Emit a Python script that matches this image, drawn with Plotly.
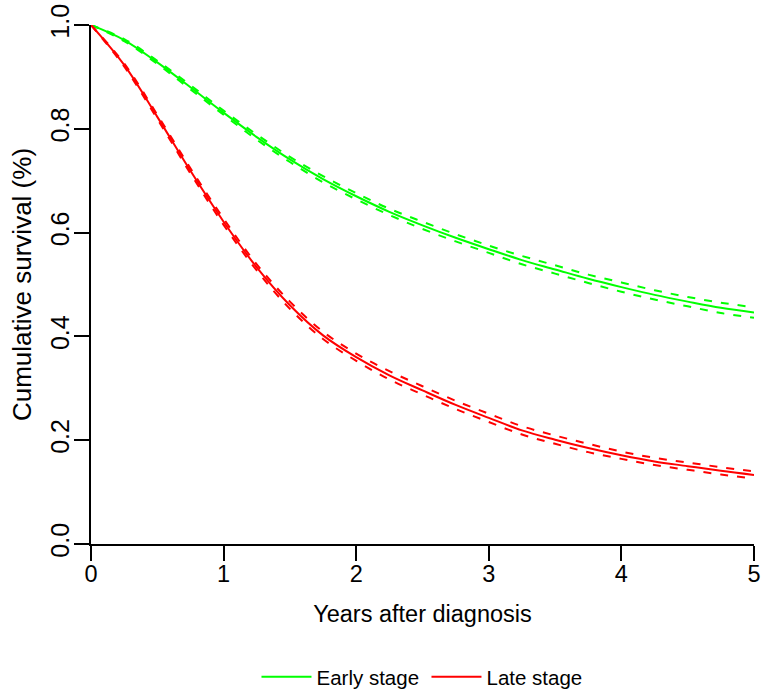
import plotly.graph_objects as go

years = [0, 0.25, 0.5, 0.75, 1.0, 1.25, 1.5, 1.75, 2.0, 2.25, 2.5, 2.75,
         3.0, 3.25, 3.5, 3.75, 4.0, 4.25, 4.5, 4.75, 5.0]

early_surv = [1.0, 0.971, 0.928, 0.880, 0.831, 0.784, 0.741, 0.703, 0.670, 0.640,
              0.614, 0.590, 0.568, 0.547, 0.529, 0.511, 0.495, 0.480, 0.467, 0.455, 0.446]
early_ci_hw = [0.0, 0.002, 0.003, 0.004, 0.004, 0.005, 0.005, 0.006, 0.006, 0.006,
               0.007, 0.007, 0.007, 0.008, 0.008, 0.008, 0.009, 0.009, 0.009, 0.010, 0.010]

late_surv = [1.0, 0.923, 0.823, 0.719, 0.621, 0.533, 0.460, 0.402, 0.360, 0.325,
             0.296, 0.268, 0.243, 0.219, 0.201, 0.185, 0.171, 0.159, 0.150, 0.141, 0.133]
late_ci_hw = [0.0, 0.003, 0.004, 0.005, 0.006, 0.006, 0.007, 0.007, 0.007, 0.008,
              0.008, 0.008, 0.008, 0.008, 0.008, 0.008, 0.007, 0.007, 0.007, 0.007, 0.007]

series_names = ["Early stage", "Late stage"]
series_colors = ["#00FF00", "#FF0000"]

x_ticks = [0, 1, 2, 3, 4, 5]
y_ticks = [0.0, 0.2, 0.4, 0.6, 0.8, 1.0]
y_tick_labels = ["0.0", "0.2", "0.4", "0.6", "0.8", "1.0"]

FONT = "Liberation Sans, Arial, sans-serif"

fig = go.Figure()
for name, color, surv, hw in [(series_names[0], series_colors[0], early_surv, early_ci_hw),
                              (series_names[1], series_colors[1], late_surv, late_ci_hw)]:
    upper = [s + h for s, h in zip(surv, hw)]
    lower = [s - h for s, h in zip(surv, hw)]
    for band in (upper, lower):
        fig.add_trace(go.Scatter(x=years, y=band, mode="lines", showlegend=False,
                                 hoverinfo="skip", cliponaxis=False,
                                 line=dict(color=color, width=2, dash="8px,9px",
                                           shape="spline", smoothing=1)))
    fig.add_trace(go.Scatter(x=years, y=surv, mode="lines", name=name, cliponaxis=False,
                             line=dict(color=color, width=2, shape="spline", smoothing=1)))

fig.update_layout(
    width=762, height=693,
    margin=dict(l=91, r=8, t=25, b=149, autoexpand=False),
    paper_bgcolor="white", plot_bgcolor="white",
    font=dict(family=FONT, color="black"),
    showlegend=True,
    legend=dict(orientation="h", x=0.506, xanchor="center", y=-0.256, yanchor="middle",
                font=dict(size=20.5, family=FONT), bgcolor="rgba(0,0,0,0)",
                itemwidth=50, entrywidth=105, entrywidthmode="pixels"),
    xaxis=dict(range=[0, 5], tickvals=x_ticks, ticks="outside", ticklen=15, tickwidth=1.5,
               tickcolor="black", showline=True, linecolor="black", linewidth=1.5,
               showgrid=False, zeroline=False, tickfont=dict(size=23.5), automargin=False,
               ticklabeloverflow="allow", ticklabelstandoff=-7,
               title=dict(text="Years after diagnosis", font=dict(size=23.5), standoff=20)),
    yaxis=dict(range=[0, 1], tickvals=y_ticks, ticktext=y_tick_labels, tickangle=-90,
               ticks="outside", ticklen=15, tickwidth=1.5, tickcolor="black",
               showline=True, linecolor="black", linewidth=1.5, automargin=False,
               ticklabeloverflow="allow", ticklabelstandoff=-5,
               showgrid=False, zeroline=False, tickfont=dict(size=25),
               title=dict(text="Cumulative survival (%)", font=dict(size=26), standoff=7)),
)

fig.write_html("out.html", config={"displayModeBar": False},
               post_script="document.body.style.margin='0';document.body.style.overflow='hidden';")
